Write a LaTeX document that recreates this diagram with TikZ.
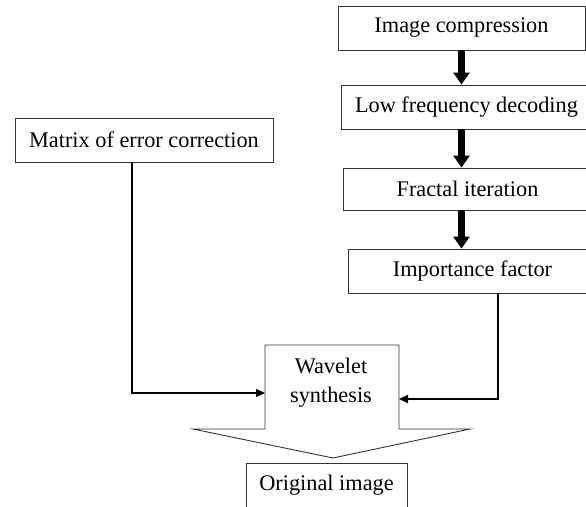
\documentclass[tikz,border=0pt]{standalone}
\usepackage{fontspec}
\setmainfont{Liberation Serif}
\usetikzlibrary{arrows.meta}

\begin{document}
\begin{tikzpicture}[x=1pt,y=-1pt,
  box/.style={draw=black!80,line width=0.9pt,minimum height=44pt,inner sep=0pt,
    font=\fontsize{22.3}{26}\selectfont},
  thickarr/.style={line width=7pt,-{Triangle[width=16pt,length=12pt]}},
  conn/.style={line width=1.3pt,-{Triangle[width=8pt,length=9pt]}}]
  \useasboundingbox (0,0) rectangle (586,506);
  \clip (0,0) rectangle (586,506);
  % right column
  \node[box,minimum width=247pt] (imgc) at (461.5,28) {Image compression};
  \node[box,minimum width=251pt] (lowf) at (466.5,107) {Low frequency decoding};
  \node[box,minimum width=249pt,minimum height=42pt] (fract) at (467.5,189) {Fractal iteration};
  \node[box,minimum width=249pt] (impf) at (472.5,271) {Importance factor};
  \foreach \a/\b in {imgc/lowf,lowf/fract,fract/impf}
    \draw[thickarr] (imgc.south |- \a.south) -- (imgc.south |- \b.north);
  % left box
  \node[box,minimum width=258pt] (mat) at (144,140) {Matrix of error correction};
  % wavelet block
  \draw[black!80,line width=0.9pt] (265,345) -- (399,345) -- (399,429) -- (470,429)
    -- (333,458) -- (193,429) -- (265,429) -- cycle;
  \node[align=center,font=\fontsize{22.3}{29}\selectfont] (wav) at (331,383) {Wavelet\\synthesis};
  \coordinate (wvin1) at (265,393);
  \coordinate (wvin2) at (399,399);
  \draw[conn] ([xshift=-12pt]mat.south) |- (wvin1);
  \draw[conn,line width=1.8pt] ([xshift=25.5pt]impf.south) |- (wvin2);
  \node[box,minimum width=161pt] (orig) at (326.5,485) {Original image};
%  \draw[help lines,step=50] (0,0) grid (586,506);
\end{tikzpicture}
\end{document}
